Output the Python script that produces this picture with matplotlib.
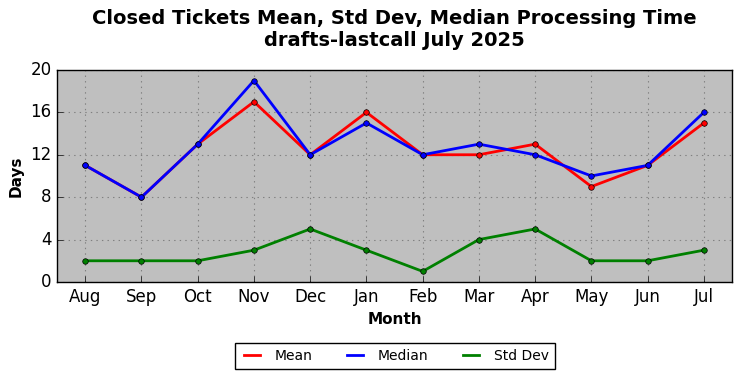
import matplotlib
matplotlib.use("Agg")
import matplotlib.pyplot as plt
from matplotlib.lines import Line2D

plt.style.use("classic")

months = ["Aug", "Sep", "Oct", "Nov", "Dec", "Jan", "Feb", "Mar", "Apr", "May", "Jun", "Jul"]
mean = [11, 8, 13, 17, 12, 16, 12, 12, 13, 9, 11, 15]
median = [11, 8, 13, 19, 12, 15, 12, 13, 12, 10, 11, 16]
std_dev = [2, 2, 2, 3, 5, 3, 1, 4, 5, 2, 2, 3]

fig = plt.figure(figsize=(7.42, 3.78), dpi=100, facecolor="white")
ax = fig.add_axes([0.077, 0.254, 0.9095, 0.561])
ax.set_facecolor("#bfbfbf")
x = list(range(len(months)))
ax.plot(x, mean, color="red", lw=2, marker="o", ms=4)
ax.plot(x, median, color="blue", lw=2, marker="o", ms=4)
ax.plot(x, std_dev, color="green", lw=2, marker="o", ms=4)
ax.set_xlim(-0.5, 11.5)
ax.set_ylim(0, 20)
ax.set_yticks([0, 4, 8, 12, 16, 20])
ax.set_xticks(x)
ax.set_xticklabels(months)
ax.tick_params(labelsize=12, top=False, right=False)
ax.grid(True, color="gray", linestyle=":", linewidth=0.8)
ax.set_axisbelow(True)
ax.set_xlabel("Month", fontsize=11, fontweight="bold")
ax.set_ylabel("Days", fontsize=11, fontweight="bold")
ax.set_title("Closed Tickets Mean, Std Dev, Median Processing Time\ndrafts-lastcall July 2025",
             fontsize=14, fontweight="bold", pad=17)
handles = [Line2D([], [], color="red", lw=2), Line2D([], [], color="blue", lw=2),
           Line2D([], [], color="green", lw=2)]
ax.legend(handles, ["Mean", "Median", "Std Dev"], loc="upper center",
          bbox_to_anchor=(0.5, -0.257), ncol=3, fontsize=10,
          frameon=True, fancybox=False, handlelength=1.7, columnspacing=2.2)
fig.savefig("out.png", dpi=100, facecolor="white")
